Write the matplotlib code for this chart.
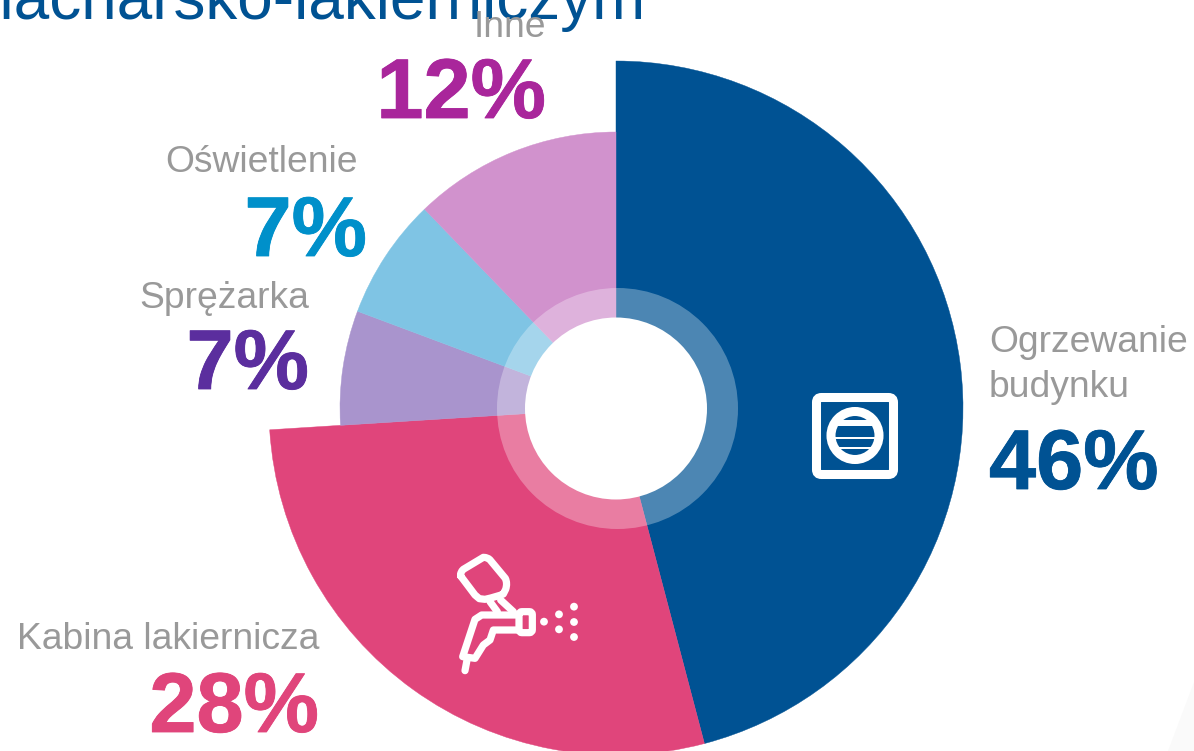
import matplotlib
matplotlib.use('Agg')
import matplotlib.pyplot as plt
import matplotlib.patheffects as pe
from matplotlib.patches import Wedge, Circle, FancyBboxPatch, Polygon, PathPatch, Rectangle
from matplotlib.path import Path

W = 1194
H = 751

labels = ['Ogrzewanie\nbudynku', 'Kabina lakiernicza', 'Sprężarka', 'Oświetlenie', 'Inne']
percents = [46, 28, 7, 7, 12]
shares = [45.9, 28.1, 6.7, 7.1, 12.2]
slice_colors = ['#005293', '#E0457B', '#A994CD', '#7FC4E4', '#D192CD']
text_colors = ['#005293', '#E0457B', '#5B2E9E', '#0090CA', '#A9269B']
big_slices = [True, True, False, False, False]

plt.rcParams['font.family'] = ['Liberation Sans', 'DejaVu Sans']
plt.rcParams['text.kerning_factor'] = 6


def py(y):
    return H - y


def draw_donut(ax):
    cx, cy = 616, py(408)
    start = 90
    for value, color, big in zip(shares, slice_colors, big_slices):
        sweep = value / sum(shares) * 360
        r = 347 if big else 276
        ax.add_patch(Wedge((cx, cy), r, start - sweep, start, fc=color, ec=color, lw=0.3, zorder=2))
        start -= sweep
    ax.add_patch(Circle((617.5, py(408.5)), 120.5, fc='white', alpha=0.3, ec='none', zorder=3))
    ax.add_patch(Circle((616, py(408.5)), 91, fc='white', ec='none', zorder=4))


def draw_labels(ax):
    # name x, name baseline, percent x, percent baseline, alignment
    spots = [(989, 352, 989, 489, 'left'), (319, 649, 319, 732, 'right'), (309, 308, 309, 389, 'right'),
             (358, 172, 367, 256, 'right'), (546, 37, 546, 118, 'right')]
    for label, value, color, spot in zip(labels, percents, text_colors, spots):
        x_name, y_name, x_pct, y_pct, ha = spot
        for i, line in enumerate(label.split('\n')):
            ax.text(x_name, py(y_name + i * 45), line, color='#999999', fontsize=26.8, ha=ha,
                    va='baseline', zorder=6)
        t = ax.text(x_pct, py(y_pct), f'{value}%', color=color, fontsize=61, fontweight='bold', ha=ha,
                    va='baseline', zorder=6)
        t.set_path_effects([pe.withStroke(linewidth=0.6, foreground=color)])


def draw_fan_icon(ax):
    ax.add_patch(FancyBboxPatch((816.5, py(474.5)), 77, 77, boxstyle='round,pad=0,rounding_size=5',
                                fc='none', ec='white', lw=6.5, zorder=5))
    center = (855, py(435.5))
    ax.add_patch(Circle(center, 24, fc='none', ec='white', lw=6.5, zorder=5))
    for y_top, height in [(420, 5.5), (436.7, 1.9), (446.7, 2)]:
        stripe = Rectangle((825, py(y_top + height)), 60, height, fc='white', ec='none', zorder=5)
        ax.add_patch(stripe)
        stripe.set_clip_path(Circle(center, 24, transform=ax.transData))


def zoom_xy(x, y):
    return 440 + x / 3, py(540 + y / 3)


def draw_spray_icon(ax):
    lw = 5.2
    style = dict(fc='none', ec='white', lw=lw, joinstyle='round', capstyle='round', zorder=5)
    # cup outline with rounded corners
    cup = [(62, 108), (60, 97), (70, 88), (130, 52), (145, 52), (152, 62), (196, 115), (203, 130),
           (197, 148), (190, 162), (172, 170), (135, 178), (118, 176), (105, 165), (62, 108)]
    cup_codes = [Path.MOVETO] + [Path.CURVE3, Path.CURVE3, Path.LINETO] * 4 + [Path.LINETO, Path.CLOSEPOLY]
    cup_codes = cup_codes[:len(cup)]
    cup_codes[-1] = Path.LINETO
    ax.add_patch(PathPatch(Path([zoom_xy(*p) for p in cup], cup_codes), **style))
    for seg in [[(150, 185), (172, 215)], [(182, 180), (220, 215)],
                [(232, 225), (125, 225), (105, 238), (68, 350), (105, 355), (130, 315),
                 (150, 300), (160, 270), (232, 270)],
                [(82, 355), (75, 392)]]:
        ax.add_patch(PathPatch(Path([zoom_xy(*p) for p in seg]), **style))
    x0, y0 = zoom_xy(237, 278)
    ax.add_patch(FancyBboxPatch((x0, y0), 40 / 3, 63 / 3, boxstyle='round,pad=0,rounding_size=3', **style))
    for p in [(312, 245), (357, 223), (357, 268), (402, 200), (402, 246), (402, 291)]:
        ax.add_patch(Circle(zoom_xy(*p), 3.9, fc='white', ec='none', zorder=5))


fig = plt.figure(figsize=(W / 100, H / 100), dpi=100)
ax = fig.add_axes([0, 0, 1, 1])
ax.set_xlim(0, W)
ax.set_ylim(0, H)
ax.axis('off')

ax.add_patch(Polygon([(1194, py(682)), (1168, py(751)), (1194, py(751))], fc='#FAFAFA', ec='none', zorder=1))
ax.text(646, py(19), 'blacharsko-lakierniczym', color='#005293', fontsize=46, ha='right', va='baseline', zorder=1)

draw_donut(ax)
draw_labels(ax)
draw_fan_icon(ax)
draw_spray_icon(ax)

fig.savefig('out.png', dpi=100)
